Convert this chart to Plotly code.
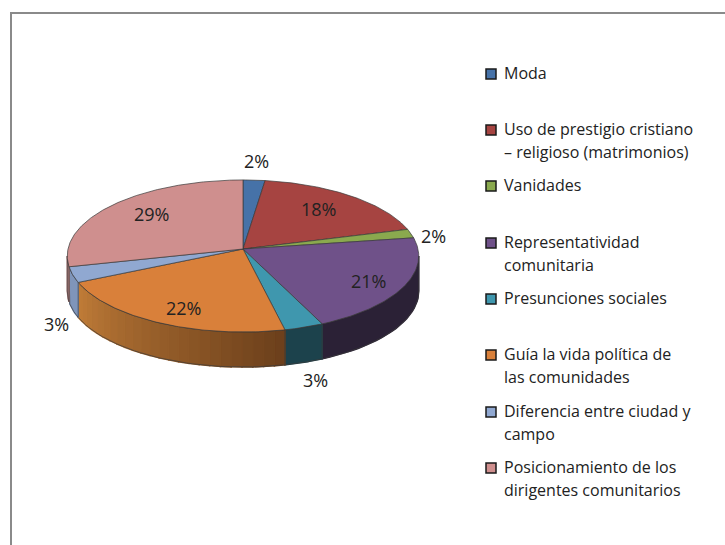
import numpy as np
import plotly.graph_objects as go

# ---- data ----
categories = ["Moda", "Uso de prestigio cristiano", "Vanidades", "Representatividad",
              "Presunciones sociales", "Guía la vida política", "Diferencia entre ciudad y campo",
              "Posicionamiento de los dirigentes"]
values = [2.2, 18.5, 1.9, 20.6, 3.3, 21.5, 3.3, 28.7]
percent_labels = ["2%", "18%", "2%", "21%", "3%", "22%", "3%", "29%"]
legend_lines = [
    ["Moda"],
    ["Uso de prestigio cristiano", "– religioso (matrimonios)"],
    ["Vanidades"],
    ["Representatividad", "comunitaria"],
    ["Presunciones sociales"],
    ["Guía la vida política de", "las comunidades"],
    ["Diferencia entre ciudad y", "campo"],
    ["Posicionamiento de los", "dirigentes comunitarios"],
]
colors = ["#4672a8", "#a64441", "#8aa94e", "#6f5189", "#3f97ae", "#d9803a", "#90a8d1", "#cf8f8e"]
wall_left = ["#35567f", "#7c3331", "#68803b", "#2b2136", "#1c424c", "#c07c38", "#7f95ba", "#b27c7b"]
wall_right = ["#35567f", "#7c3331", "#68803b", "#2b2136", "#1c424c", "#6b3f1b", "#7f95ba", "#b27c7b"]

# ---- layout constants ----
W, H = 725, 545
CX, CY = 243.0, 249.0
R, A, K = 175.0, 75.4, 0.092
DEPTH = 35.0
FONT = "Open Sans"
FS = 16
label_pos = [(256, 161), (318, 209), (433, 236), (368, 281), (315, 380), (183, 308), (56, 324), (151, 214)]
legend_y = [74, 130, 186, 243, 299, 355, 412, 468]
LINE_GAP = 23
SWATCH_X, TEXT_X = 491, 502


def project(theta_deg):
    t = np.radians(theta_deg)
    f = np.cos(t)
    d = 1 + K * f
    return CX + R * np.sin(t) / d, CY - A * f / d


def mix(c1, c2, s):
    a = [int(c1[i:i + 2], 16) for i in (1, 3, 5)]
    b = [int(c2[i:i + 2], 16) for i in (1, 3, 5)]
    return "#" + "".join(f"{round(p + (q - p) * s):02x}" for p, q in zip(a, b))


fig = go.Figure()
edges = np.concatenate([[0], np.cumsum(values)]) / sum(values) * 360
vis_lo, vis_hi = np.degrees(np.arccos(-K)), 360 - np.degrees(np.arccos(-K))
EDGE = "#3a3a3a"

# side walls
for i in range(len(values)):
    lo, hi = max(edges[i], vis_lo), min(edges[i + 1], vis_hi)
    if hi <= lo:
        continue
    n = 1 if wall_left[i] == wall_right[i] else 24
    th = np.linspace(lo, hi, n + 1)
    for j in range(n):
        seg = np.linspace(th[j], th[j + 1], 24 if n == 1 else 4)
        x, y = project(seg)
        col = mix(wall_right[i], wall_left[i], (j + 0.5) / n)
        fig.add_trace(go.Scatter(
            x=np.r_[x, x[::-1], x[0]], y=np.r_[y, y[::-1] + DEPTH, y[0]],
            mode="lines", fill="toself", fillcolor=col, line=dict(color=col, width=1.5),
            hoverinfo="skip", showlegend=False))
    ths = np.linspace(lo, hi, 40)
    x, y = project(ths)
    fig.add_trace(go.Scatter(
        x=np.r_[x, x[::-1], x[0]], y=np.r_[y, y[::-1] + DEPTH, y[0]],
        mode="lines", line=dict(color=EDGE, width=0.7), hoverinfo="skip", showlegend=False))

# top face
for i, name in enumerate(categories):
    th = np.linspace(edges[i], edges[i + 1], max(4, int((edges[i + 1] - edges[i]) * 1.5)))
    x, y = project(th)
    fig.add_trace(go.Scatter(
        x=np.r_[CX, x, CX], y=np.r_[CY, y, CY], mode="lines", fill="toself",
        fillcolor=colors[i], line=dict(color=EDGE, width=0.7), name=name,
        text=percent_labels[i], hoverinfo="name+text", showlegend=False))

# legend swatches
fig.add_trace(go.Scatter(
    x=[SWATCH_X] * len(colors), y=legend_y, mode="markers",
    marker=dict(symbol="square", size=10, color=colors, line=dict(color="#1a1a1a", width=1.5)),
    hoverinfo="skip", showlegend=False))

for (px, py), lab in zip(label_pos, percent_labels):
    fig.add_annotation(x=px, y=py, text=lab, showarrow=False, xanchor="center", yanchor="middle",
                       font=dict(family=FONT, size=FS + 2, color="#222222"))
for ly, lines in zip(legend_y, legend_lines):
    for k, line in enumerate(lines):
        fig.add_annotation(x=TEXT_X, y=ly + k * LINE_GAP - 1, text=line, showarrow=False,
                           xanchor="left", yanchor="middle",
                           font=dict(family=FONT, size=FS, color="#222222"))

# outer frame
fig.add_shape(type="line", x0=11, x1=11, y0=13, y1=H, line=dict(color="#8a8a8a", width=2))
fig.add_shape(type="line", x0=10, x1=W, y0=13, y1=13, line=dict(color="#8a8a8a", width=2))

fig.update_layout(
    width=W, height=H, margin=dict(l=0, r=0, t=0, b=0),
    paper_bgcolor="white", plot_bgcolor="white", showlegend=False,
    xaxis=dict(range=[0, W], visible=False, fixedrange=True),
    yaxis=dict(range=[H, 0], visible=False, fixedrange=True),
)
fig.write_html("out.html", config=dict(displayModeBar=False),
               post_script="document.body.style.margin='0';document.documentElement.style.overflow='hidden';")
